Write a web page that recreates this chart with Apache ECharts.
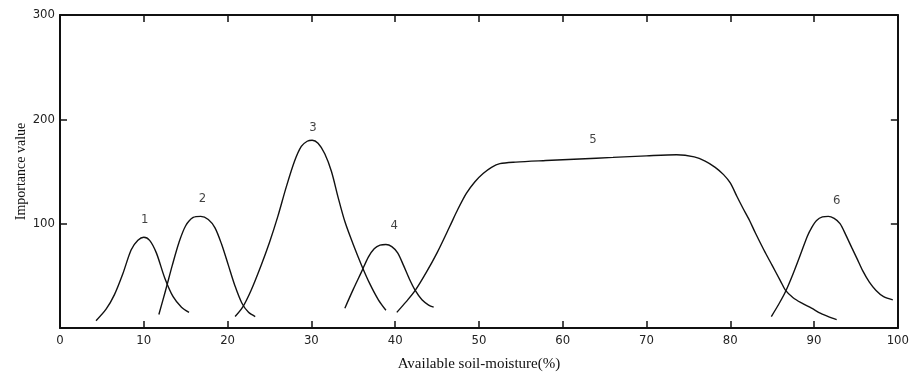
<!DOCTYPE html>
<html>
<head>
<meta charset="utf-8">
<script src="https://cdn.jsdelivr.net/npm/echarts@6/dist/echarts.min.js"></script>
<style>
  html, body { margin: 0; padding: 0; background: #fff; }
  #chart { width: 912px; height: 378px; }
</style>
</head>
<body>
<div id="chart"></div>
<script>
// curves: [moisture %, importance value]
const curve1 = [[4.3, 7], [5.5, 18], [6.5, 32], [7.5, 52], [8.5, 75], [9.3, 84], [10.0, 87], [10.7, 84], [11.5, 72], [12.5, 48], [13.5, 30], [14.5, 20], [15.4, 15]];
const curve2 = [[11.8, 13], [12.6, 36], [13.4, 60], [14.2, 82], [15.0, 98], [15.9, 106], [16.8, 107], [17.7, 104], [18.5, 96], [19.3, 80], [20.1, 60], [20.9, 40], [21.7, 24], [22.5, 15], [23.3, 11]];
const curve3 = [[20.9, 11], [21.8, 20], [22.8, 36], [24.0, 60], [25.0, 82], [26.0, 107], [27.0, 135], [28.0, 160], [28.8, 174], [29.5, 179], [30.1, 180], [30.8, 177], [31.6, 167], [32.4, 150], [33.2, 125], [34.0, 102], [35.0, 80], [36.0, 60], [37.0, 42], [38.0, 27], [38.9, 17]];
const curve4 = [[34.0, 19], [35.0, 37], [36.0, 54], [36.8, 68], [37.5, 76], [38.2, 79.5], [38.9, 80], [39.6, 78], [40.3, 72], [41.0, 60], [41.7, 47], [42.4, 36], [43.2, 27], [44.0, 22], [44.6, 20]];
const curve5 = [[40.2, 15], [41.3, 25], [42.4, 36], [43.7, 53], [45.0, 72], [46.5, 97], [47.5, 114], [48.5, 129], [49.5, 140], [50.5, 148], [51.5, 154], [52.5, 157.5], [54.4, 159], [58, 160.5], [62, 162], [66, 163.5], [70, 165], [73.6, 166], [75.7, 164], [77.0, 160], [78.2, 154], [79.2, 147], [80.0, 139], [80.8, 126], [81.5, 115], [82.3, 103], [83.0, 91], [84.0, 75], [85.0, 60], [86.0, 45], [86.6, 36], [87.5, 29], [88.5, 24], [89.7, 19], [90.8, 14], [92.0, 10], [92.7, 8]];
const curve6 = [[84.9, 11], [85.8, 23], [86.6, 35], [87.5, 52], [88.5, 73], [89.2, 88], [89.7, 96], [90.3, 103], [91.0, 106.5], [91.7, 107], [92.4, 105], [93.1, 100], [93.8, 89], [94.5, 77], [95.1, 67], [95.8, 55], [96.6, 44], [97.4, 36], [98.3, 30], [99.4, 27]];

const curveNames = ['1', '2', '3', '4', '5', '6'];
const labelSpots = [[10.1, 104], [17.0, 124], [30.2, 192], [39.9, 98], [63.6, 181], [92.7, 122]];

const xTicks = [0, 10, 20, 30, 40, 50, 60, 70, 80, 90, 100];
const yTicks = [0, 100, 200, 300];

const chart = echarts.init(document.getElementById('chart'));

const frame = { onZero: false, lineStyle: { color: '#111', width: 2 } };
const ticksIn = { inside: true, length: 7, lineStyle: { color: '#111', width: 1.5 } };
const tickFont = { color: '#222', fontSize: 13, fontFamily: 'Liberation Sans Narrow, DejaVu Sans Condensed, sans-serif' };

const lineSeries = [curve1, curve2, curve3, curve4, curve5, curve6].map((c, i) => ({
  name: curveNames[i],
  type: 'line',
  smooth: 0.3,
  showSymbol: false,
  lineStyle: { color: '#111', width: 1.4 },
  data: c,
  z: 3,
}));

chart.setOption({
  animation: false,
  grid: { left: 60, right: 7, top: 15, bottom: 50 },
  xAxis: [
    {
      type: 'value', min: 0, max: 100, interval: 10,
      axisLine: frame,
      axisTick: ticksIn,
      axisLabel: Object.assign({ margin: 6, formatter: v => xTicks.includes(v) ? String(v) : '' }, tickFont),
      splitLine: { show: false },
      name: 'Available soil-moisture(%)',
      nameLocation: 'middle', nameGap: 29,
      nameTextStyle: { color: '#111', fontSize: 15, fontFamily: 'Liberation Serif, DejaVu Serif, serif' },
    },
    {
      type: 'value', min: 0, max: 100, interval: 10, position: 'top',
      axisLine: frame,
      axisTick: ticksIn,
      axisLabel: { show: false },
      splitLine: { show: false },
    },
  ],
  yAxis: [
    {
      type: 'value', min: 0, max: 300, interval: 100,
      axisLine: frame,
      axisTick: ticksIn,
      axisLabel: Object.assign({ margin: 5, formatter: v => (v === 0 || !yTicks.includes(v)) ? '' : String(v) }, tickFont),
      splitLine: { show: false },
      name: 'Importance value',
      nameLocation: 'middle', nameGap: 32, nameRotate: 90, nameMoveOverlap: false,
      nameTextStyle: { color: '#111', fontSize: 14, fontFamily: 'Liberation Serif, DejaVu Serif, serif' },
    },
    {
      type: 'value', min: 0, max: 300, interval: 100, position: 'right',
      axisLine: frame,
      axisTick: ticksIn,
      axisLabel: { show: false },
      splitLine: { show: false },
    },
  ],
  series: lineSeries.concat([
    {
      type: 'scatter',
      symbolSize: 0,
      data: labelSpots.map((p, i) => ({ value: p, name: curveNames[i] })),
      label: {
        show: true, position: 'inside', formatter: '{b}',
        color: '#111', fontSize: 13, fontFamily: 'Liberation Sans Narrow, DejaVu Sans Condensed, sans-serif',
      },
      z: 4,
    },
  ]),
});
</script>
</body>
</html>
